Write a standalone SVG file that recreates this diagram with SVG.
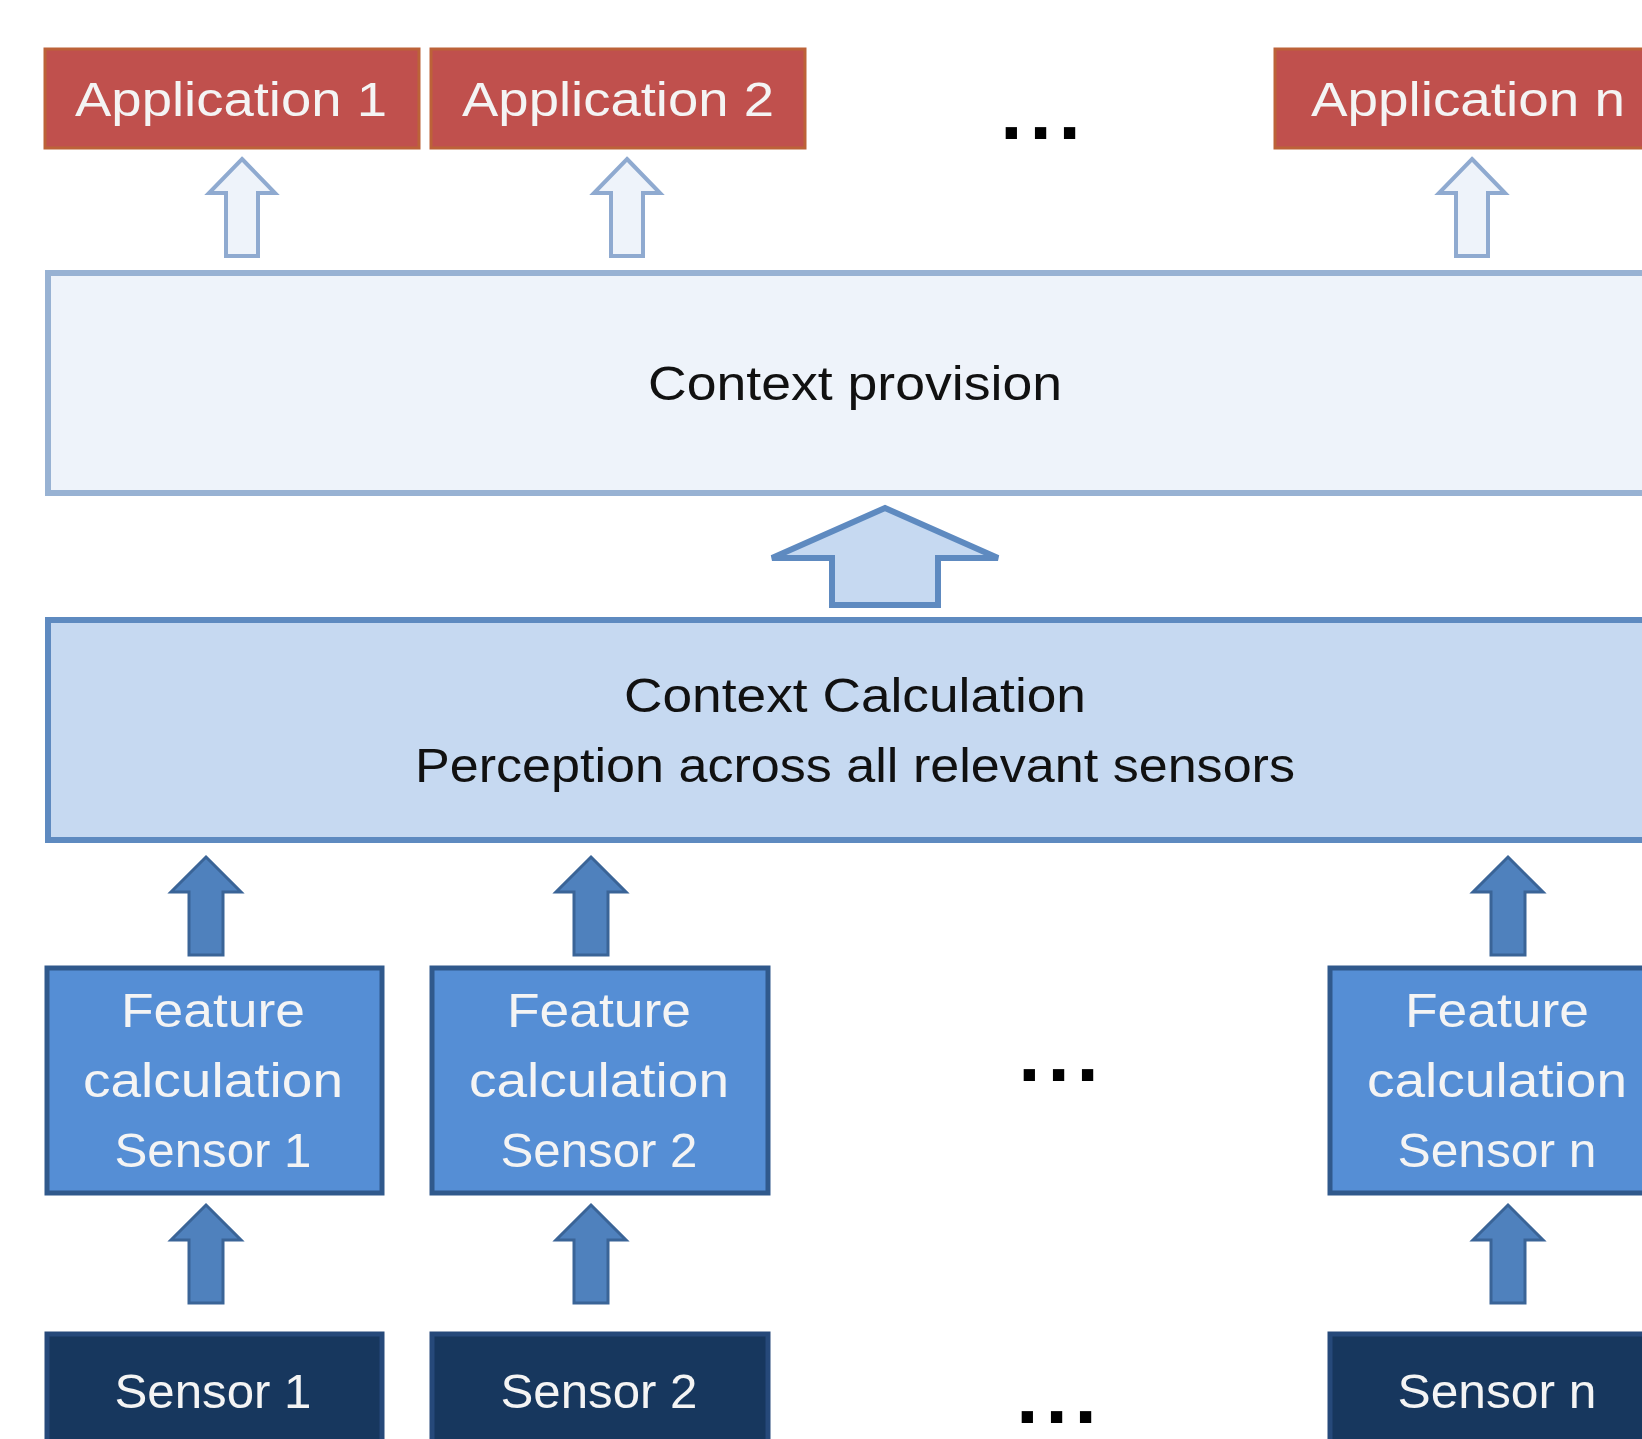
<svg xmlns="http://www.w3.org/2000/svg" xmlns:xlink="http://www.w3.org/1999/xlink" width="1642" height="1439" viewBox="0 0 1642 1439">
  <style>
    .t { font-family: "Liberation Sans", Arial, sans-serif; font-size: 48px; text-anchor: middle; }
    .w { fill: #F4F4F4; }
    .k { fill: #111111; }
    .app { fill: #C0504D; stroke: #BC6238; stroke-width: 3; }
    .prov { fill: #EEF3FA; stroke: #98B2D3; stroke-width: 6; }
    .calc { fill: #C6D9F1; stroke: #5E8AC0; stroke-width: 6; }
    .feat { fill: #558ED5; stroke: #30598C; stroke-width: 5; }
    .sens { fill: #17375E; stroke: #26497A; stroke-width: 5; }
    .hollow { fill: #EEF3FA; stroke: #8FAAD0; stroke-width: 4; }
    .big { fill: #C6D9F1; stroke: #5E8AC0; stroke-width: 6; }
    .dark { fill: #4F81BD; stroke: #3A6497; stroke-width: 3; }
    .dots { font-family: "Liberation Sans", Arial, sans-serif; font-weight: bold; font-size: 80px; letter-spacing: 7px; text-anchor: middle; fill: #000; }
  </style>
  <defs>
    <path id="hollowArrow" d="M0,0 L33,34 L16,34 L16,97 L-16,97 L-16,34 L-33,34 Z"/>
    <path id="darkArrow" d="M0,0 L35,35 L17,35 L17,98 L-17,98 L-17,35 L-35,35 Z"/>
  </defs>
  <rect width="1642" height="1439" fill="#FFFFFF"/>

  <g id="connectors">
    <use xlink:href="#hollowArrow" class="hollow" x="242" y="159"/>
    <use xlink:href="#hollowArrow" class="hollow" x="627" y="159"/>
    <use xlink:href="#hollowArrow" class="hollow" x="1472" y="159"/>
    <path class="big" d="M885,508 L998,558 L938,558 L938,605 L832,605 L832,558 L772,558 Z"/>
    <use xlink:href="#darkArrow" class="dark" x="206" y="857"/>
    <use xlink:href="#darkArrow" class="dark" x="591" y="857"/>
    <use xlink:href="#darkArrow" class="dark" x="1508" y="857"/>
    <use xlink:href="#darkArrow" class="dark" x="206" y="1205"/>
    <use xlink:href="#darkArrow" class="dark" x="591" y="1205"/>
    <use xlink:href="#darkArrow" class="dark" x="1508" y="1205"/>
  </g>

  <g id="app1">
    <rect class="app" x="45" y="49" width="374" height="99"/>
    <text class="t w" x="231" y="116" textLength="312" lengthAdjust="spacingAndGlyphs">Application 1</text>
  </g>
  <g id="app2">
    <rect class="app" x="431" y="49" width="374" height="99"/>
    <text class="t w" x="618" y="116" textLength="312" lengthAdjust="spacingAndGlyphs">Application 2</text>
  </g>
  <g id="appn">
    <rect class="app" x="1275" y="49" width="400" height="99"/>
    <text class="t w" x="1468" y="116" textLength="314" lengthAdjust="spacingAndGlyphs">Application n</text>
  </g>
  <g id="dots-top"><text class="dots" x="1044" y="139">...</text></g>

  <g id="context-provision">
    <rect class="prov" x="48" y="273" width="1640" height="220"/>
    <text class="t k" x="855" y="400" textLength="414" lengthAdjust="spacingAndGlyphs">Context provision</text>
  </g>

  <g id="context-calculation">
    <rect class="calc" x="48" y="620" width="1640" height="220"/>
    <text class="t k" x="855" y="712" textLength="462" lengthAdjust="spacingAndGlyphs">Context Calculation</text>
    <text class="t k" x="855" y="782" textLength="880" lengthAdjust="spacingAndGlyphs">Perception across all relevant sensors</text>
  </g>

  <g id="feature1">
    <rect class="feat" x="47" y="968" width="335" height="225"/>
    <text class="t w" x="213" y="1027" textLength="184" lengthAdjust="spacingAndGlyphs">Feature</text>
    <text class="t w" x="213" y="1097" textLength="260" lengthAdjust="spacingAndGlyphs">calculation</text>
    <text class="t w" x="213" y="1167" textLength="197" lengthAdjust="spacingAndGlyphs">Sensor 1</text>
  </g>
  <g id="feature2">
    <rect class="feat" x="432" y="968" width="336" height="225"/>
    <text class="t w" x="599" y="1027" textLength="184" lengthAdjust="spacingAndGlyphs">Feature</text>
    <text class="t w" x="599" y="1097" textLength="260" lengthAdjust="spacingAndGlyphs">calculation</text>
    <text class="t w" x="599" y="1167" textLength="197" lengthAdjust="spacingAndGlyphs">Sensor 2</text>
  </g>
  <g id="featuren">
    <rect class="feat" x="1330" y="968" width="340" height="225"/>
    <text class="t w" x="1497" y="1027" textLength="184" lengthAdjust="spacingAndGlyphs">Feature</text>
    <text class="t w" x="1497" y="1097" textLength="260" lengthAdjust="spacingAndGlyphs">calculation</text>
    <text class="t w" x="1497" y="1167" textLength="199" lengthAdjust="spacingAndGlyphs">Sensor n</text>
  </g>
  <g id="dots-middle"><text class="dots" x="1062" y="1081">...</text></g>

  <g id="sensor1">
    <rect class="sens" x="47" y="1334" width="335" height="150"/>
    <text class="t w" x="213" y="1408" textLength="197" lengthAdjust="spacingAndGlyphs">Sensor 1</text>
  </g>
  <g id="sensor2">
    <rect class="sens" x="432" y="1334" width="336" height="150"/>
    <text class="t w" x="599" y="1408" textLength="197" lengthAdjust="spacingAndGlyphs">Sensor 2</text>
  </g>
  <g id="sensorn">
    <rect class="sens" x="1330" y="1334" width="340" height="150"/>
    <text class="t w" x="1497" y="1408" textLength="199" lengthAdjust="spacingAndGlyphs">Sensor n</text>
  </g>
  <g id="dots-bottom"><text class="dots" x="1060" y="1423">...</text></g>
</svg>
